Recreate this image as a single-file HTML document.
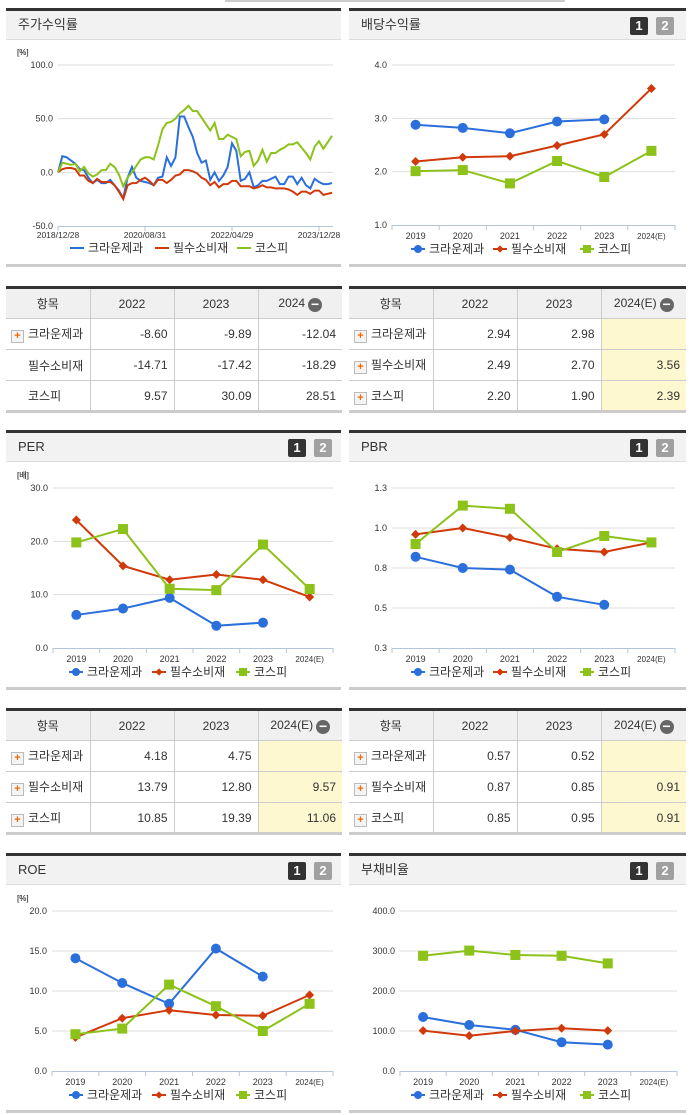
<!DOCTYPE html>
<html><head><meta charset="utf-8">
<style>
body{margin:0;width:691px;height:1115px;background:#fff;position:relative;overflow:hidden;font-family:"Liberation Sans","Noto Sans CJK KR",sans-serif;color:#333}
.hdr{position:absolute;height:28px;background:#f2f2f2;border-top:3px solid #333;border-bottom:1px solid #ddd;font-size:13px;line-height:28px;padding-left:12px;box-sizing:content-box}
.btn{position:absolute;top:6px;width:18px;height:18px;color:#fff;font-weight:bold;font-size:13px;line-height:18px;text-align:center;border-radius:2px}
.b1{background:#333}.b2{background:#a0a0a0}
.bot{position:absolute;height:3px;background:#ccc}
table{position:absolute;border-collapse:collapse;font-size:12px;border-top:3px solid #333;border-bottom:3px solid #ccc;table-layout:fixed}
td,th{border:1px solid #ccc;height:31px;padding:0 6px;font-weight:normal;white-space:nowrap;overflow:hidden;box-sizing:border-box}
th{background:#f0f0f0;text-align:center}
td{text-align:right}
td.n{text-align:left;padding-left:5px;padding-right:0}
tr td:first-child,tr th:first-child{border-left:none}
tr td:last-child,tr th:last-child{border-right:none}
.y{background:#fdf8cf}
.pl{display:inline-block;width:11px;height:11px;border:1px solid #bbb;background:#f4f4f4;color:#f26a00;font-size:11px;line-height:11px;text-align:center;font-weight:bold;vertical-align:-1px;margin-right:4px}
.sp{display:inline-block;width:17px}
.mi{display:inline-block;width:14px;height:14px;border-radius:7px;background:#666;color:#fff;line-height:13px;font-size:14px;text-align:center;vertical-align:-2px;margin-left:3px;font-weight:bold}
</style></head><body>
<div style="position:absolute;left:225px;top:0;width:340px;height:2px;background:#ccc"></div>

<div class="hdr" style="left:6px;top:8px;width:323px">주가수익률</div>
<div class="hdr" style="left:349px;top:8px;width:325px">배당수익률<span class="btn b1" style="left:281px">1</span><span class="btn b2" style="left:307px">2</span></div>
<div class="hdr" style="left:6px;top:430px;width:323px">PER<span class="btn b1" style="left:282px">1</span><span class="btn b2" style="left:308px">2</span></div>
<div class="hdr" style="left:349px;top:430px;width:325px">PBR<span class="btn b1" style="left:281px">1</span><span class="btn b2" style="left:307px">2</span></div>
<div class="hdr" style="left:6px;top:853px;width:323px">ROE<span class="btn b1" style="left:282px">1</span><span class="btn b2" style="left:308px">2</span></div>
<div class="hdr" style="left:349px;top:853px;width:325px">부채비율<span class="btn b1" style="left:281px">1</span><span class="btn b2" style="left:307px">2</span></div>

<div class="bot" style="left:6px;top:264px;width:335px"></div>
<div class="bot" style="left:349px;top:264px;width:337px"></div>
<div class="bot" style="left:6px;top:687px;width:335px"></div>
<div class="bot" style="left:349px;top:687px;width:337px"></div>
<div class="bot" style="left:6px;top:1110px;width:335px"></div>
<div class="bot" style="left:349px;top:1110px;width:337px"></div>

<table style="left:6px;top:286px;width:336px">
<colgroup><col style="width:84px"><col style="width:84px"><col style="width:84px"><col style="width:84px"></colgroup>
<tr><th>항목</th><th>2022</th><th>2023</th><th>2024<span class="mi">−</span></th></tr>
<tr><td class="n"><span class="pl">+</span>크라운제과</td><td>-8.60</td><td>-9.89</td><td>-12.04</td></tr>
<tr><td class="n"><span class="sp"></span>필수소비재</td><td>-14.71</td><td>-17.42</td><td>-18.29</td></tr>
<tr><td class="n"><span class="sp"></span>코스피</td><td>9.57</td><td>30.09</td><td>28.51</td></tr>
</table>
<table style="left:349px;top:286px;width:337px">
<colgroup><col style="width:84px"><col style="width:84px"><col style="width:84px"><col style="width:85px"></colgroup>
<tr><th>항목</th><th>2022</th><th>2023</th><th>2024(E)<span class="mi">−</span></th></tr>
<tr><td class="n"><span class="pl">+</span>크라운제과</td><td>2.94</td><td>2.98</td><td class="y"></td></tr>
<tr><td class="n"><span class="pl">+</span>필수소비재</td><td>2.49</td><td>2.70</td><td class="y">3.56</td></tr>
<tr><td class="n"><span class="pl">+</span>코스피</td><td>2.20</td><td>1.90</td><td class="y">2.39</td></tr>
</table>
<table style="left:6px;top:708px;width:336px">
<colgroup><col style="width:84px"><col style="width:84px"><col style="width:84px"><col style="width:84px"></colgroup>
<tr><th>항목</th><th>2022</th><th>2023</th><th>2024(E)<span class="mi">−</span></th></tr>
<tr><td class="n"><span class="pl">+</span>크라운제과</td><td>4.18</td><td>4.75</td><td class="y"></td></tr>
<tr><td class="n"><span class="pl">+</span>필수소비재</td><td>13.79</td><td>12.80</td><td class="y">9.57</td></tr>
<tr><td class="n"><span class="pl">+</span>코스피</td><td>10.85</td><td>19.39</td><td class="y">11.06</td></tr>
</table>
<table style="left:349px;top:708px;width:337px">
<colgroup><col style="width:84px"><col style="width:84px"><col style="width:84px"><col style="width:85px"></colgroup>
<tr><th>항목</th><th>2022</th><th>2023</th><th>2024(E)<span class="mi">−</span></th></tr>
<tr><td class="n"><span class="pl">+</span>크라운제과</td><td>0.57</td><td>0.52</td><td class="y"></td></tr>
<tr><td class="n"><span class="pl">+</span>필수소비재</td><td>0.87</td><td>0.85</td><td class="y">0.91</td></tr>
<tr><td class="n"><span class="pl">+</span>코스피</td><td>0.85</td><td>0.95</td><td class="y">0.91</td></tr>
</table>

<svg id="charts" width="691" height="1115" style="position:absolute;left:0;top:0" xmlns="http://www.w3.org/2000/svg"></svg>

<script>
const years=["2019","2020","2021","2022","2023","2024(E)"];
const stockCrown=[0,15,14,11,8,3,2,-5,-10,-7,-10,-10,-7,-12,-17,-24,-5,5,-5,-8,-9,-10,-12,-5,-4,14,6,14,52,52,42,33,18,9,11,-7,0,-8,-3,5,27,20,-8,-6,0,-14,-12,-8,-8,-6,-4,-11,-11,-4,-4,-11,-5,-12,-15,-6,-9,-11,-11,-10];
const stockStaple=[0,3,4,4,3,-3,-3,-8,-10,-6,-9,-9,-9,-12,-18,-25,-12,-10,-10,-7,-5,-8,-12,-7,-7,-10,-7,-3,-2,2,2,1,-1,-5,-7,-12,-9,-14,-11,-11,-8,-8,-13,-13,-13,-15,-14,-12,-14,-14,-15,-15,-15,-16,-18,-21,-18,-18,-20,-17,-17,-21,-20,-19];
const stockKospi=[0,9,8,7,8,1,5,-1,-4,-2,2,2,8,5,-2,-13,-5,0,6,12,14,14,12,25,40,46,47,50,55,58,62,57,57,51,45,39,46,31,31,35,33,31,15,19,20,6,11,21,10,18,18,21,23,26,26,28,23,18,12,24,29,22,28,34];
const stockDateLabels=["2018/12/28","2020/08/31","2022/04/29","2023/12/28"];
const stockDateIdx=[0,20,40,60];
const stockTicks=[100,50,0,-50];
const divCrown=[2.88,2.82,2.72,2.94,2.98,null];
const divStaple=[2.19,2.27,2.29,2.49,2.70,3.56];
const divKospi=[2.01,2.03,1.78,2.20,1.90,2.39];
const perCrown=[6.2,7.4,9.4,4.18,4.75,null];
const perStaple=[24.0,15.4,12.8,13.79,12.80,9.57];
const perKospi=[19.8,22.3,11.1,10.85,19.39,11.06];
const pbrCrown=[0.82,0.75,0.74,0.57,0.52,null];
const pbrStaple=[0.96,1.00,0.94,0.87,0.85,0.91];
const pbrKospi=[0.90,1.14,1.12,0.85,0.95,0.91];
const roeCrown=[14.1,11.0,8.4,15.3,11.8,null];
const roeStaple=[4.2,6.6,7.6,7.0,6.9,9.5];
const roeKospi=[4.6,5.3,10.8,8.1,5.0,8.4];
const debtCrown=[135,115,103,72,66,null];
const debtStaple=[101,88,100,107,101,null];
const debtKospi=[288,301,290,288,269,null];

const NS="http://www.w3.org/2000/svg";
const svg=document.getElementById('charts');
const C={b:"#2a6fdc",r:"#d03a0a",g:"#8cc21a"};
function el(tag,attrs,parent){const e=document.createElementNS(NS,tag);for(const k in attrs)e.setAttribute(k,attrs[k]);(parent||svg).appendChild(e);return e;}
function txt(x,y,s,size,anchor,parent){const t=el('text',{x:x,y:y,'font-size':size,'text-anchor':anchor||'start',fill:'#333','font-family':'"Liberation Sans","Noto Sans CJK KR",sans-serif'},parent);t.textContent=s;return t;}

function frame(g,x0,x1,y0,y1,unit,ticks,fmt,yScale){
  txt(17,y0-10,unit,8,'start',g);
  ticks.forEach(v=>{const y=yScale(v);
    if(v!==ticks[ticks.length-1]) el('line',{x1:x0,x2:x1,y1:y,y2:y,stroke:'#ddd','stroke-width':1},g);
    txt(x0-5,y+3,fmt(v),9,'end',g);});
  el('line',{x1:x0,x2:x1,y1:y1+0.5,y2:y1+0.5,stroke:'#b5c6d9','stroke-width':1},g);
}
function legend(g,xs,y,kind){
  const names=["크라운제과","필수소비재","코스피"],cols=[C.b,C.r,C.g],mk=['c','d','s'];
  names.forEach((n,i)=>{const lg=el('g',{},g);
    
    
    const x=xs[i];
    el('line',{x1:x,x2:x+14,y1:y,y2:y,stroke:cols[i],'stroke-width':2},lg);
    if(kind!=='line') marker(lg,x+7,y,mk[i],cols[i],0.8);
    txt(x+18,y+4,n,12,'start',lg);});
}
function marker(g,x,y,m,c,s){
  if(m==='c') return el('circle',{cx:x,cy:y,r:5*s,fill:c},g);
  if(m==='d') return el('path',{d:`M${x} ${y-4.5*s}L${x+4.5*s} ${y}L${x} ${y+4.5*s}L${x-4.5*s} ${y}Z`,fill:c},g);
  return el('rect',{x:x-5*s,y:y-5*s,width:10*s,height:10*s,fill:c},g);
}
function catChart(name,x0,x1,y0,y1,min,max,ticks,fmt,unit,series,legX){
  const g=el('g',{});
  
  
  const ys=v=>y1-(v-min)/(max-min)*(y1-y0);
  const bw=(x1-x0)/years.length;
  const xs=i=>x0+(i+0.5)*bw;
  frame(g,x0,x1,y0,y1,unit,ticks,fmt,ys);
  for(let i=0;i<=years.length;i++) el('line',{x1:x0+i*bw,x2:x0+i*bw,y1:y1,y2:y1+5,stroke:'#b5c6d9'},g);
  years.forEach((yr,i)=>txt(xs(i),y1+14,yr,yr.length>4?8:9,'middle',g));
  const mk=['c','d','s'],cols=[C.b,C.r,C.g];
  series.forEach((arr,si)=>{
    const pts=[];arr.forEach((v,i)=>{if(v!==null)pts.push([xs(i),ys(v)]);});
    const p=el('polyline',{points:pts.map(p=>p.join(',')).join(' '),fill:'none',stroke:cols[si],'stroke-width':2},g);
    
    
    pts.forEach(pt=>{const m=marker(g,pt[0],pt[1],mk[si],cols[si],1);
      
      });
  });
  legend(g,legX,y1+24,'mk');
}
(function(){
  const g=el('g',{});
  
  
  const x0=58,x1=333,y0=65,y1=226,min=-50,max=100;
  const ys=v=>y1-(v-min)/(max-min)*(y1-y0);
  const step=4.35;const xs=i=>x0+i*step;
  frame(g,x0,x1,y0,y1,'[%]',stockTicks,v=>v.toFixed(1),ys);
  stockDateIdx.forEach((d,i)=>{el('line',{x1:xs(d),x2:xs(d),y1:y1,y2:y1+5,stroke:'#b5c6d9'},g);
    txt(xs(d),y1+12,stockDateLabels[i],8.5,'middle',g);});
  [stockCrown,stockStaple,stockKospi].forEach((arr,si)=>{
    const p=el('polyline',{points:arr.map((v,i)=>xs(i)+','+ys(v)).join(' '),fill:'none',stroke:[C.b,C.r,C.g][si],'stroke-width':2},g);
    
    
  });
  legend(g,[70,155,237],248,'line');
})();
const f1=v=>v.toFixed(1);
catChart('dividend-chart',392,675,65,225,1,4,[4,3,2,1],f1,'[%]',[divCrown,divStaple,divKospi],[411,493,580]);
catChart('per-chart',53,333,488,648,0,30,[30,20,10,0],f1,'[배]',[perCrown,perStaple,perKospi],[69,152,236]);
catChart('pbr-chart',392,675,488,648,0.25,1.25,[1.25,1.0,0.75,0.5,0.25],f1,'[배]',[pbrCrown,pbrStaple,pbrKospi],[411,493,580]);
catChart('roe-chart',52,333,911,1071,0,20,[20,15,10,5,0],f1,'[%]',[roeCrown,roeStaple,roeKospi],[69,152,236]);
catChart('debt-ratio-chart',400,677,911,1071,0,400,[400,300,200,100,0],f1,'[%]',[debtCrown,debtStaple,debtKospi],[411,493,580]);
</script>
</body></html>
